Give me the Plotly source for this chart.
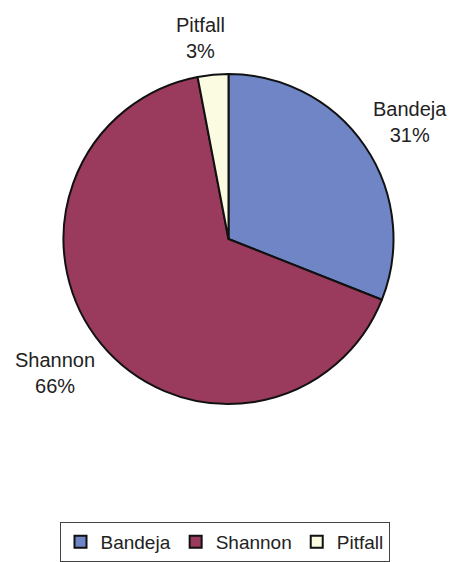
import plotly.graph_objects as go

labels = ["Bandeja", "Shannon", "Pitfall"]
values = [31, 66, 3]
colors = ["#6f85c6", "#9a3a5c", "#fbfbe2"]
label_pos = [(410/449, 1-122/562), (55/449, 1-373/562), (200/449, 1-38/562)]

total = sum(values)
fig = go.Figure(go.Pie(
    labels=labels, values=values, sort=False, direction="clockwise", rotation=0,
    marker=dict(colors=colors, line=dict(color="#111111", width=2)),
    textinfo="none", hoverinfo="label+percent",
    domain=dict(x=[63.5/449, 393.5/449], y=[158/562, 488/562]),
))

for lab, v, (x, y) in zip(labels, values, label_pos):
    fig.add_annotation(x=x, y=y, xref="paper", yref="paper", showarrow=False,
                       text=f"{lab}<br>{round(100*v/total)}%",
                       font=dict(family="Liberation Sans, Arial", size=20, color="#222222"),
                       xanchor="center", yanchor="middle")

fig.update_layout(
    width=449, height=562, margin=dict(l=0, r=0, t=0, b=0),
    paper_bgcolor="white", plot_bgcolor="white",
    showlegend=True,
    legend=dict(orientation="h", x=0.5, xanchor="center", y=0, yanchor="bottom",
                bordercolor="#444444", borderwidth=1,
                font=dict(family="Liberation Sans, Arial", size=19, color="#222222"),
                itemwidth=30, tracegroupgap=0),
)
fig.write_html("out.html")
